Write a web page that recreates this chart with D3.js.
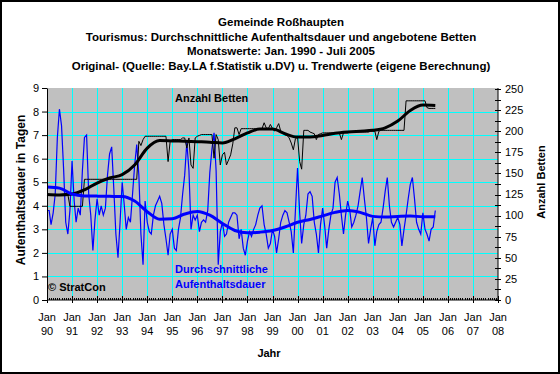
<!DOCTYPE html>
<html>
<head>
<meta charset="utf-8">
<script src="https://cdn.jsdelivr.net/npm/d3@7"></script>
<style>
  body { margin: 0; background: #fff; }
  svg { display: block; }
  text { font-family: "Liberation Sans", Arial, sans-serif; }
</style>
</head>
<body>
<div id="chart"></div>
<script>
var titleLines = [
  "Gemeinde Roßhaupten",
  "Tourismus: Durchschnittliche Aufenthaltsdauer und angebotene Betten",
  "Monatswerte: Jan. 1990 - Juli 2005",
  "Original- (Quelle: Bay.LA f.Statistik u.DV) u. Trendwerte (eigene Berechnung)"
];

// monthly values, Jan 1990 .. Jul 2005
var aufenthalt = [
  3.8, 3.8, 3.2, 3.7, 4.5, 6.9, 8.1, 7.4, 5.5, 3.3, 2.8, 3.8,   // 1990
  5.9, 4.2, 3.3, 3.9, 3.6, 5.5, 6.9, 7.0, 4.5, 3.6, 2.1, 3.4,   // 1991
  4.3, 3.6, 4.0, 3.6, 3.9, 5.3, 6.2, 6.5, 4.7, 2.8, 1.8, 3.3,   // 1992
  5.0, 4.0, 3.0, 3.5, 3.3, 4.5, 5.7, 6.6, 5.3, 2.8, 1.5, 4.2,   // 1993
  3.3, 2.9, 2.8, 3.6, 4.0, 4.2, 4.4, 4.1, 3.2, 2.6, 1.9, 2.8,   // 1994
  3.0, 2.2, 2.1, 3.0, 3.5, 4.5, 5.3, 6.7, 5.5, 3.0, 3.6, 3.4,   // 1995
  3.6, 2.9, 3.3, 3.4, 3.3, 3.8, 5.4, 6.4, 7.1, 5.5, 1.5, 2.9,   // 1996
  3.3, 2.7, 2.8, 3.3, 3.5, 3.7, 3.7, 3.6, 2.6, 3.0, 2.2, 1.9,   // 1997
  2.5, 2.9, 2.7, 3.0, 3.2, 3.6, 3.9, 4.0, 3.2, 2.8, 2.2, 2.4,   // 1998
  3.0, 2.7, 2.0, 2.6, 3.3, 3.6, 3.8, 3.7, 3.3, 2.9, 2.0, 3.8,   // 1999
  5.6, 3.7, 2.4, 3.2, 3.6, 4.5, 4.6, 4.4, 3.3, 2.8, 2.0, 3.2,   // 2000
  3.9, 3.1, 2.2, 3.0, 3.6, 3.9, 5.0, 5.2, 4.5, 3.6, 2.8, 3.6,   // 2001
  4.2, 3.8, 3.1, 3.3, 3.6, 4.0, 4.6, 5.2, 4.3, 3.5, 2.4, 3.0,   // 2002
  3.5, 2.3, 2.9, 3.2, 3.3, 3.9, 4.6, 5.2, 4.0, 3.3, 3.1, 3.3,   // 2003
  3.5, 3.2, 2.3, 3.0, 3.6, 4.3, 4.9, 5.2, 4.3, 3.3, 3.0, 2.8,   // 2004
  3.7, 3.0, 2.8, 2.5, 3.0, 3.1, 3.8                             // 2005
];

var betten = [
  125, 125, 125, 125, 125, 125, 125, 125, 125, 125, 125, 111,   // 1990
  111, 111, 111, 111, 111, 111, 143, 143, 143, 143, 143, 143,   // 1991
  143, 143, 143, 143, 143, 143, 143, 143, 143, 143, 143, 143,   // 1992
  143, 143, 143, 143, 143, 143, 143, 143, 188, 183, 190, 194,   // 1993
  194, 194, 194, 194, 194, 194, 194, 194, 194, 194, 164, 188,   // 1994
  190, 190, 190, 190, 190, 192, 192, 180, 192, 160, 156, 192,   // 1995
  194, 195, 196, 196, 196, 196, 196, 196, 168, 196, 190, 160,   // 1996
  172, 175, 160, 166, 172, 185, 204, 204, 196, 203, 203, 203,   // 1997
  203, 203, 203, 203, 203, 203, 203, 203, 210, 204, 203, 208,   // 1998
  203, 200, 204, 209, 200, 198, 196, 195, 192, 186, 178, 191,   // 1999
  193, 164, 155, 201, 201, 201, 199, 198, 197, 190, 196, 197,   // 2000
  198, 198, 198, 198, 198, 198, 198, 198, 198, 190, 198, 198,   // 2001
  198, 199, 199, 199, 199, 199, 199, 199, 199, 199, 199, 200,   // 2002
  200, 200, 190, 200, 201, 201, 201, 201, 201, 201, 201, 201,   // 2003
  201, 201, 201, 201, 236, 236, 236, 236, 236, 236, 236, 236,   // 2004
  236, 236, 228, 227, 227, 227, 227                             // 2005
];

// trend values, every half year (Jan / Jul) 1990 .. 2005
var trendAufenthalt = [4.8, 4.75, 4.5, 4.42, 4.41, 4.4, 4.39, 4.2, 3.75, 3.43, 3.45, 3.65,
  3.76, 3.6, 3.25, 2.95, 2.85, 2.88, 2.95, 3.1, 3.3, 3.42, 3.57, 3.72,
  3.8, 3.72, 3.55, 3.52, 3.55, 3.57, 3.53, 3.53];
var trendBetten = [125, 124.5, 125.5, 130.5, 138.6, 144.5, 148.5, 160, 180, 189, 188.5, 188,
  187.5, 187, 186, 191, 198, 202.5, 202.5, 197, 193, 193, 195, 197.5,
  199, 200, 201, 204, 212, 224.5, 231, 230.5];

var leftTicks = [0, 1, 2, 3, 4, 5, 6, 7, 8, 9];
var rightTicks = [0, 25, 50, 75, 100, 125, 150, 175, 200, 225, 250];
var yearTicks = d3.range(1990, 2009);

function main() {
  var W = 560, H = 374;
  var pLeft = 47, pRight = 498, pTop = 88, pBottom = 300;

  var svg = d3.select("#chart").append("svg")
      .attr("width", W)
      .attr("height", H);

  svg.append("rect")
      .attr("x", 1).attr("y", 1)
      .attr("width", W - 2).attr("height", H - 2)
      .attr("fill", "#fff")
      .attr("stroke", "#000")
      .attr("stroke-width", 2);

  var month = function(i) { return new Date(Date.UTC(1990, i, 1)); };
  var halfYear = function(i) { return new Date(Date.UTC(1990, i * 6, 1)); };
  var jan = function(y) { return new Date(Date.UTC(y, 0, 1)); };

  var x = d3.scaleUtc()
      .domain([jan(1990), jan(2008)])
      .range([pLeft, pRight]);
  var yL = d3.scaleLinear().domain([0, 9]).range([pBottom, pTop]);
  var yR = d3.scaleLinear().domain([0, 250]).range([pBottom, pTop + 1]);

  // plot area
  svg.append("rect")
      .attr("x", pLeft).attr("y", pTop)
      .attr("width", pRight - pLeft).attr("height", pBottom - pTop)
      .attr("fill", "#c0c0c0");

  // gridlines
  svg.append("g").selectAll("line")
      .data(leftTicks.slice(1, -1))
      .enter().append("line")
      .attr("x1", pLeft).attr("x2", pRight)
      .attr("y1", function(d) { return Math.round(yL(d)) + 0.5; })
      .attr("y2", function(d) { return Math.round(yL(d)) + 0.5; })
      .attr("stroke", "#00ffff");

  svg.append("g").selectAll("line")
      .data(yearTicks.slice(1, -1))
      .enter().append("line")
      .attr("x1", function(d) { return Math.round(x(jan(d))) + 0.5; })
      .attr("x2", function(d) { return Math.round(x(jan(d))) + 0.5; })
      .attr("y1", pTop).attr("y2", pBottom)
      .attr("stroke", "#00ffff");

  // series
  var lineAuf = d3.line()
      .x(function(d, i) { return x(month(i)); })
      .y(function(d) { return yL(d); });
  var lineBet = d3.line()
      .x(function(d, i) { return x(month(i)); })
      .y(function(d) { return yR(d); });
  var trendAuf = d3.line()
      .x(function(d, i) { return x(halfYear(i)); })
      .y(function(d) { return yL(d); })
      .curve(d3.curveMonotoneX);
  var trendBet = d3.line()
      .x(function(d, i) { return x(halfYear(i)); })
      .y(function(d) { return yR(d); })
      .curve(d3.curveMonotoneX);

  svg.append("path").datum(aufenthalt)
      .attr("d", lineAuf).attr("fill", "none")
      .attr("stroke", "#0000ff").attr("stroke-width", 1.2);
  svg.append("path").datum(betten)
      .attr("d", lineBet).attr("fill", "none")
      .attr("stroke", "#000").attr("stroke-width", 1);
  svg.append("path").datum(trendBetten)
      .attr("d", trendBet).attr("fill", "none")
      .attr("stroke", "#000").attr("stroke-width", 3);
  svg.append("path").datum(trendAufenthalt)
      .attr("d", trendAuf).attr("fill", "none")
      .attr("stroke", "#0000ff").attr("stroke-width", 3);

  // left axis
  var axL = svg.append("g")
      .attr("transform", "translate(" + pLeft + ",0)")
      .call(d3.axisLeft(yL).tickValues(leftTicks).tickSize(5).tickPadding(3).tickSizeOuter(0));
  axL.selectAll("text").attr("font-size", "11px").attr("font-family", "Liberation Sans, Arial, sans-serif");

  // right axis, ticks every 12.5 crossing the line
  var minorR = d3.range(0, 251, 12.5);
  var axR = svg.append("g").attr("transform", "translate(" + pRight + ",0)");
  axR.append("line").attr("y1", pTop).attr("y2", pBottom).attr("stroke", "#000");
  axR.selectAll(".rt").data(minorR).enter().append("line")
      .attr("x1", -3).attr("x2", 3)
      .attr("y1", function(d) { return Math.round(yR(d)) + 0.5; })
      .attr("y2", function(d) { return Math.round(yR(d)) + 0.5; })
      .attr("stroke", "#000");
  axR.selectAll(".rl").data(rightTicks).enter().append("text")
      .attr("x", 7)
      .attr("y", function(d) { return yR(d); })
      .attr("dy", "0.35em")
      .attr("font-size", "11px")
      .text(function(d) { return d; });

  // bottom axis: monthly minor ticks, yearly major ticks
  var axB = svg.append("g").attr("transform", "translate(0," + pBottom + ")");
  axB.append("line").attr("x1", pLeft).attr("x2", pRight).attr("stroke", "#000");
  axB.selectAll(".mt").data(d3.range(0, 216)).enter().append("line")
      .attr("x1", function(d) { return Math.round(x(month(d))) + 0.5; })
      .attr("x2", function(d) { return Math.round(x(month(d))) + 0.5; })
      .attr("y1", -2).attr("y2", 0)
      .attr("stroke", "#000");
  axB.selectAll(".yt").data(yearTicks).enter().append("line")
      .attr("x1", function(d) { return Math.round(x(jan(d))) + 0.5; })
      .attr("x2", function(d) { return Math.round(x(jan(d))) + 0.5; })
      .attr("y1", -4).attr("y2", 3)
      .attr("stroke", "#000");
  var yl = axB.selectAll(".yl").data(yearTicks).enter().append("text")
      .attr("text-anchor", "middle")
      .attr("font-size", "11px");
  yl.append("tspan")
      .attr("x", function(d) { return x(jan(d)); })
      .attr("y", 21)
      .text("Jan");
  yl.append("tspan")
      .attr("x", function(d) { return x(jan(d)); })
      .attr("y", 35)
      .text(function(d) { return d3.format("02")(d % 100); });

  // titles
  svg.append("g").selectAll("text")
      .data(titleLines)
      .enter().append("text")
      .attr("x", 281)
      .attr("y", function(d, i) { return 26 + i * 14.7; })
      .attr("text-anchor", "middle")
      .attr("font-size", "11.5px")
      .attr("font-weight", "bold")
      .text(function(d) { return d; });

  svg.append("text")
      .attr("transform", "translate(25,190) rotate(-90)")
      .attr("text-anchor", "middle")
      .attr("font-size", "12px")
      .attr("font-weight", "bold")
      .text("Aufenthaltsdauer in Tagen");

  svg.append("text")
      .attr("transform", "translate(545,182) rotate(-90)")
      .attr("text-anchor", "middle")
      .attr("font-size", "11px")
      .attr("font-weight", "bold")
      .text("Anzahl Betten");

  svg.append("text")
      .attr("x", 269).attr("y", 357)
      .attr("text-anchor", "middle")
      .attr("font-size", "11px")
      .attr("font-weight", "bold")
      .text("Jahr");

  // labels inside the plot
  svg.append("text")
      .attr("x", 175).attr("y", 102)
      .attr("font-size", "11px").attr("font-weight", "bold")
      .text("Anzahl Betten");

  svg.append("text")
      .attr("x", 175).attr("y", 273)
      .attr("font-size", "11px").attr("font-weight", "bold")
      .attr("fill", "#0000ff")
      .text("Durchschnittliche");
  svg.append("text")
      .attr("x", 175).attr("y", 288)
      .attr("font-size", "11px").attr("font-weight", "bold")
      .attr("fill", "#0000ff")
      .text("Aufenthaltsdauer");

  svg.append("text")
      .attr("x", 48).attr("y", 291)
      .attr("font-size", "11px").attr("font-weight", "bold")
      .text("© StratCon");
}

main();
</script>
</body>
</html>
